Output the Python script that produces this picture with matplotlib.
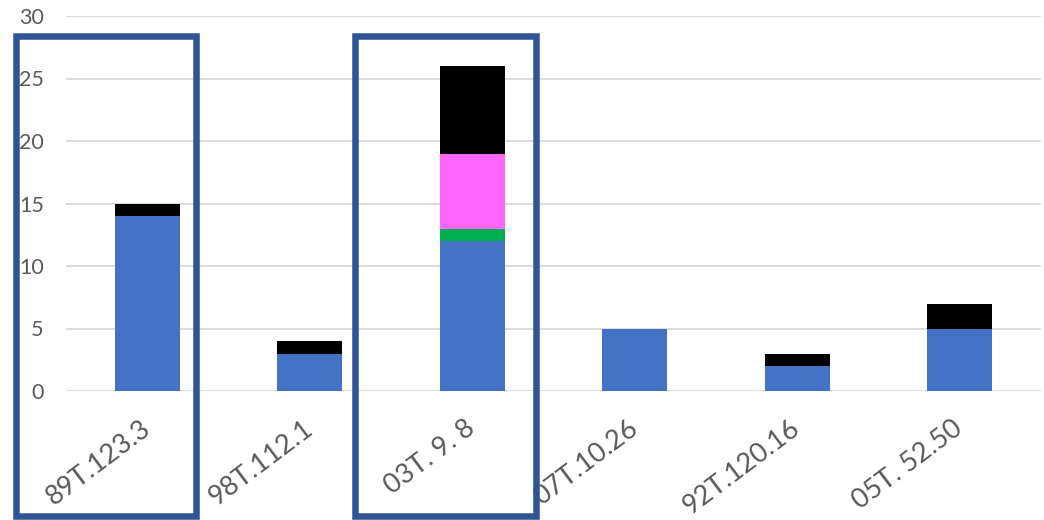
import matplotlib
matplotlib.use("Agg")
from matplotlib import pyplot as plt
from matplotlib.patches import Rectangle
import numpy as np

categories = ["89T.123.3", "98T.112.1", "03T. 9. 8", "07T.10.26", "92T.120.16", "05T. 52.50"]
blue = [14, 3, 12, 5, 2, 5]
green = [0, 0, 1, 0, 0, 0]
magenta = [0, 0, 6, 0, 0, 0]
black = [1, 1, 7, 0, 1, 2]
# highlight boxes in pixels (x0, x1, y0, y1) measured from top-left
boxes = [(15.5, 196, 35.5, 516), (354.5, 535.5, 35.5, 516)]

W, H = 1044, 520
plt.rcParams['font.family'] = ['Lato', 'DejaVu Sans']
fig = plt.figure(figsize=(W / 100, H / 100), dpi=100)
ax = fig.add_axes([66 / W, 129 / H, 975 / W, 375 / H])

x = np.arange(len(categories))
bottom = np.zeros(len(categories))
for vals, col in [(blue, '#4472C4'), (green, '#00B050'), (magenta, '#FF66FF'), (black, '#000000')]:
    ax.bar(x, vals, width=0.4, bottom=bottom, color=col, zorder=3)
    bottom += np.array(vals)

ax.set_xlim(-0.5, len(categories) - 0.5)
ax.set_ylim(0, 30)
ax.set_yticks(range(0, 31, 5))
ax.grid(axis='y', color='#D9D9D9', linewidth=1.3, zorder=0)
for s in ax.spines.values():
    s.set_visible(False)
ax.tick_params(axis='both', length=0, colors='#595959')
ax.tick_params(axis='y', pad=16, labelsize=15.5)
ax.set_xticks(x)
ax.set_xticklabels(categories, rotation=37, ha='right', va='center', rotation_mode='anchor')
ax.tick_params(axis='x', pad=25, labelsize=19.5)

for x0, x1, y0, y1 in boxes:
    r = Rectangle((x0 / W, 1 - y1 / H), (x1 - x0) / W, (y1 - y0) / H,
                  transform=fig.transFigure, fill=False, edgecolor='#2F5597',
                  linewidth=4.7, clip_on=False, zorder=5)
    fig.patches.append(r)

plt.savefig("out.png", dpi=100)
